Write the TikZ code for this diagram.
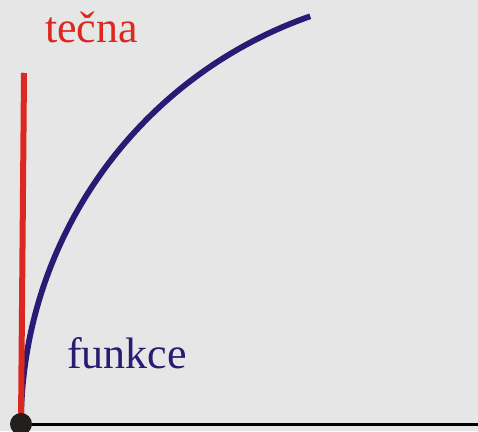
\documentclass[tikz,border=0pt]{standalone}
\usepackage{fontspec}
\setmainfont{Liberation Serif}
\definecolor{grback}{RGB}{230,230,230}
\definecolor{grred}{RGB}{220,40,30}
\definecolor{grblue}{RGB}{42,26,116}
\definecolor{grdot}{RGB}{35,31,28}
\begin{document}
\begin{tikzpicture}[
        x=1pt, y=1pt,
        font=\fontsize{44}{50}\selectfont,
        gr dot/.style     ={fill=grdot, shape=circle, inner sep=0pt, minimum size=22pt},
        gr axis/.style    ={draw=black, line width=3pt},
        gr tangent/.style ={draw=grred, line width=6pt},
        gr func/.style    ={draw=grblue, line width=5.8pt},
        gr label/.style   ={anchor=base west, inner sep=0pt}
    ]
    %% --- background and frame ---------------------------------------------
    \fill[grback] (0,0) rectangle (478,431);
    \useasboundingbox (0,0) rectangle (478,431);
    %% --- axes ---------------------------------------------------------------
    \coordinate (xend) at (478,7);
    \coordinate (yend) at (23,358);
    \coordinate (o) at (21,7);
    \draw[gr axis] (o) -- (xend);
    \draw[gr axis] (o) -- (yend);
    %% --- function and its tangent at the origin ---------------------------
    \draw[gr func] (o) arc[start angle=180, end angle=109.3, radius=432];
    \coordinate (tend) at (24,358);
    \draw[gr tangent] (o) -- (tend);
    \node[gr dot] (dot) at (o) {};
    %% --- labels -------------------------------------------------------------
    \node[gr label, text=grred]  (tecna)  at (45,388) {tečna};
    \node[gr label, text=grblue] (funkce) at (67,63)  {funkce};
\end{tikzpicture}
\end{document}
